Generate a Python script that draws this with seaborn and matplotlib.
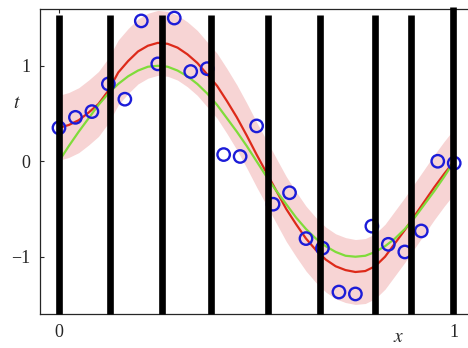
import numpy as np
import pandas as pd
import matplotlib
matplotlib.use("Agg")
import matplotlib.pyplot as plt
import seaborn as sns

# Observed training points
x_obs = np.linspace(0.0, 1.0, 25)
t_obs = [0.35, 0.46, 0.52, 0.81, 0.65, 1.47, 1.02, 1.50, 0.94, 0.97,
         0.07, 0.05, 0.37, -0.45, -0.33, -0.81, -0.91, -1.37, -1.39, -0.68,
         -0.87, -0.95, -0.73, 0.00, -0.02]

# Curves sampled on a regular grid
x_grid = np.linspace(0.0, 1.0, 41)
t_true = [0.00, 0.16, 0.31, 0.45, 0.59, 0.71, 0.81, 0.89, 0.95, 0.99,
          1.00, 0.99, 0.95, 0.89, 0.81, 0.71, 0.59, 0.45, 0.31, 0.16,
          0.00, -0.16, -0.31, -0.45, -0.59, -0.71, -0.81, -0.89, -0.95, -0.99,
          -1.00, -0.99, -0.95, -0.89, -0.81, -0.71, -0.59, -0.45, -0.31, -0.16,
          0.00]
t_mean = [0.35, 0.38, 0.43, 0.51, 0.60, 0.74, 0.93, 1.05, 1.15, 1.21,
          1.24, 1.23, 1.19, 1.12, 1.03, 0.91, 0.79, 0.63, 0.46, 0.27,
          0.07, -0.12, -0.31, -0.50, -0.66, -0.81, -0.93, -1.03, -1.10, -1.14,
          -1.16, -1.15, -1.10, -1.00, -0.86, -0.72, -0.57, -0.42, -0.27, -0.13,
          0.00]
t_spread = 0.34

# Vertical marker positions and their top ends
bar_x = [0.0, 0.13, 0.26, 0.385, 0.53, 0.66, 0.80, 0.89, 0.997]
bar_top = [1.535, 1.535, 1.535, 1.535, 1.535, 1.535, 1.535, 1.535, 1.62]

sns.set_style("ticks")
plt.rcParams["font.family"] = ["Liberation Serif", "DejaVu Serif"]
plt.rcParams["mathtext.fontset"] = "stix"
plt.rcParams["axes.unicode_minus"] = True

fig = plt.figure(figsize=(4.68, 3.48), dpi=100)
ax = fig.add_axes([40 / 468, 34 / 348, 432 / 468, 305.5 / 348])

curves = pd.DataFrame({"x": x_grid, "true": t_true, "mean": t_mean})
lo = np.array(t_mean) - t_spread
hi = np.array(t_mean) + t_spread
ax.fill_between(x_grid, lo, hi, color="#f7d4d4", linewidth=0, zorder=1)

sns.lineplot(data=curves, x="x", y="mean", ax=ax, color="#dd2a1a",
             linewidth=1.6, zorder=2)
sns.lineplot(data=curves, x="x", y="true", ax=ax, color="#7fdc3a",
             linewidth=1.6, zorder=3)

points = pd.DataFrame({"x": x_obs, "t": t_obs})
sns.scatterplot(data=points, x="x", y="t", ax=ax, s=80, marker="o",
                facecolor="none", edgecolor="#1c1cd8", linewidth=1.7,
                zorder=4)

ax.vlines(bar_x, -1.6, bar_top, color="black", linewidth=4.8, zorder=5,
          clip_on=False)

ax.set_xlim(-0.048, 1.045)
ax.set_ylim(-1.6, 1.6)
ax.set_xticks([0, 1])
ax.set_xticklabels(["0", "1"])
ax.set_yticks([-1, 0, 1])
ax.set_yticklabels(["\u22121", "0", "1"])
ax.tick_params(axis="both", direction="in", length=3, width=0.8,
               labelsize=13, top=True, pad=7)
for side in ("left", "top", "bottom"):
    ax.spines[side].set_linewidth(0.9)
ax.spines["right"].set_visible(False)

ax.set_xlabel("$x$", fontsize=14)
ax.xaxis.set_label_coords(0.83, -0.05)
ax.set_ylabel("$t$", fontsize=14, rotation=0, ha="center", va="center")
ax.yaxis.set_label_coords(-0.053, 0.69)

fig.savefig("out.png", dpi=100)
